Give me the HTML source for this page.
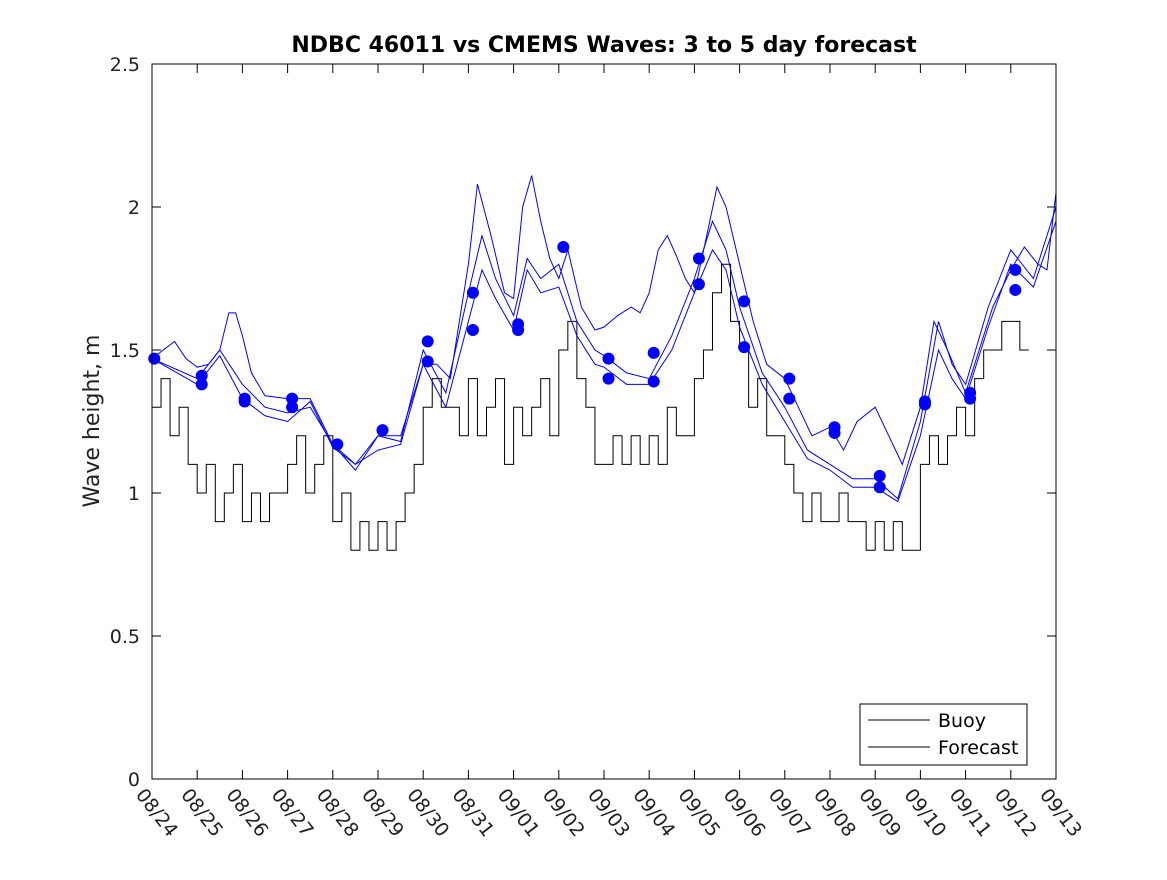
<!DOCTYPE html>
<html><head><meta charset="utf-8"><style>
body{margin:0;background:#fff}
svg{font-family:"DejaVu Sans","Liberation Sans",sans-serif}
</style></head><body>
<svg id="chart" width="1167" height="875" viewBox="0 0 1167 875" xmlns="http://www.w3.org/2000/svg">
<rect width="1167" height="875" fill="#fff"/>
<text x="604" y="52" text-anchor="middle" font-size="22" font-weight="bold">NDBC 46011 vs CMEMS Waves: 3 to 5 day forecast</text>
<text transform="translate(99,421) rotate(-90)" text-anchor="middle" font-size="22" fill="#222">Wave height, m</text>
<g id="grid"></g><g id="series"></g>
<rect x="152" y="64" width="904" height="715" fill="none" stroke="#000" stroke-width="1"/>
<g>
<rect x="860" y="704" width="167" height="61" fill="#fff" stroke="#000"/>
<line x1="868" y1="720" x2="930" y2="720" stroke="#000"/>
<text x="938" y="727" font-size="19">Buoy</text>
<line x1="868" y1="747" x2="930" y2="747" stroke="#000"/>
<text x="938" y="754" font-size="19">Forecast</text>
</g>
</svg>
<script>
const xLabels=["08/24","08/25","08/26","08/27","08/28","08/29","08/30","08/31","09/01","09/02","09/03","09/04","09/05","09/06","09/07","09/08","09/09","09/10","09/11","09/12","09/13"];
const yTicks=[0,0.5,1,1.5,2,2.5];
const buoyStep=0.2;
const buoy=[1.3,1.4,1.2,1.3,1.1,1.0,1.1,0.9,1.0,1.1,0.9,1.0,0.9,1.0,1.0,1.1,1.2,1.0,1.1,1.2,0.9,1.0,0.8,0.9,0.8,0.9,0.8,0.9,1.0,1.1,1.3,1.4,1.3,1.3,1.2,1.4,1.2,1.3,1.4,1.1,1.3,1.2,1.3,1.4,1.2,1.5,1.6,1.4,1.3,1.1,1.1,1.2,1.1,1.2,1.1,1.2,1.1,1.3,1.2,1.2,1.4,1.5,1.7,1.8,1.6,1.5,1.3,1.4,1.2,1.2,1.1,1.0,0.9,1.0,0.9,0.9,1.0,0.9,0.9,0.8,0.9,0.8,0.9,0.8,0.8,1.1,1.2,1.1,1.2,1.3,1.2,1.4,1.5,1.5,1.6,1.6,1.5];
const fc1Days=[0,0.25,0.5,0.75,1,1.25,1.5,1.7,1.85,2,2.2,2.5,3,3.5,4,4.5,5,5.5,6,6.3,6.6,7,7.2,7.5,7.8,8,8.2,8.4,8.6,8.8,9,9.2,9.5,9.8,10,10.3,10.6,10.8,11,11.2,11.4,11.6,11.8,12,12.3,12.5,12.7,13,13.3,13.6,14,14.3,14.6,15,15.3,15.6,16,16.3,16.6,17,17.3,17.6,18,18.3,18.6,19,19.3,19.6,19.8,20];
const fc1=[1.47,1.5,1.53,1.47,1.44,1.45,1.5,1.63,1.63,1.55,1.42,1.34,1.33,1.33,1.17,1.1,1.2,1.2,1.45,1.45,1.4,1.8,2.08,1.9,1.7,1.68,2.0,2.11,1.95,1.82,1.75,1.85,1.65,1.57,1.58,1.62,1.65,1.63,1.7,1.85,1.9,1.83,1.75,1.7,1.92,2.07,2.0,1.8,1.6,1.45,1.4,1.3,1.2,1.23,1.15,1.25,1.3,1.2,1.1,1.3,1.6,1.5,1.35,1.5,1.65,1.78,1.86,1.8,1.78,2.05];
const fc2Days=[0,1,1.5,2,2.5,3,3.5,4,4.5,5,5.5,6,6.5,7,7.3,7.6,8,8.3,8.6,9,9.4,9.8,10,10.5,11,11.5,12,12.4,12.7,13,13.5,14,14.5,15,15.5,16,16.5,17,17.4,17.7,18,18.5,19,19.5,20];
const fc2=[1.47,1.4,1.5,1.38,1.3,1.28,1.3,1.17,1.08,1.2,1.18,1.5,1.35,1.7,1.9,1.75,1.62,1.82,1.75,1.8,1.6,1.5,1.48,1.42,1.4,1.55,1.75,1.95,1.85,1.65,1.42,1.3,1.15,1.1,1.05,1.05,0.98,1.25,1.6,1.45,1.38,1.65,1.85,1.75,2.0];
const fc3Days=[0,1,1.5,2,2.5,3,3.5,4,4.5,5,5.5,6,6.5,7,7.3,7.6,8,8.3,8.6,9,9.4,9.8,10,10.5,11,11.5,12,12.4,12.7,13,13.5,14,14.5,15,15.5,16,16.5,17,17.4,17.7,18,18.5,19,19.5,20];
const fc3=[1.47,1.38,1.48,1.33,1.27,1.25,1.32,1.16,1.1,1.15,1.17,1.45,1.3,1.6,1.78,1.68,1.57,1.78,1.7,1.72,1.55,1.45,1.44,1.38,1.38,1.5,1.7,1.85,1.78,1.58,1.38,1.25,1.12,1.08,1.02,1.02,0.97,1.2,1.5,1.4,1.33,1.58,1.8,1.72,1.95];
const dotDays=[0.05,1.1,1.1,2.05,2.05,3.1,3.1,4.1,5.1,6.1,6.1,7.1,7.1,8.1,8.1,9.1,10.1,10.1,11.1,11.1,12.1,12.1,13.1,13.1,14.1,14.1,15.1,15.1,16.1,16.1,17.1,17.1,18.1,18.1,19.1,19.1];
const dotVals=[1.47,1.41,1.38,1.33,1.32,1.33,1.30,1.17,1.22,1.53,1.46,1.70,1.57,1.59,1.57,1.86,1.47,1.40,1.49,1.39,1.82,1.73,1.67,1.51,1.40,1.33,1.23,1.21,1.06,1.02,1.32,1.31,1.35,1.33,1.78,1.71];

const X=d=>152+d*904/20, Y=v=>779-v*286;
const NS="http://www.w3.org/2000/svg";
const grid=document.getElementById('grid'), ser=document.getElementById('series');
function mk(tag,attrs,parent){const e=document.createElementNS(NS,tag);for(const k in attrs)e.setAttribute(k,attrs[k]);parent.appendChild(e);return e;}
yTicks.forEach(v=>{
  const y=Y(v);
  const t=mk('path',{d:`M152 ${y}h9M1056 ${y}h-9`,stroke:'#000'},grid);
  
  
  const l=mk('text',{x:140,y:y+7,'text-anchor':'end','font-size':19,fill:'#222'},grid);
  
  
  l.textContent=String(v);
});
xLabels.forEach((s,i)=>{
  const x=X(i);
  const t=mk('path',{d:`M${x} 779v-9M${x} 64v9`,stroke:'#000'},grid);
  
  
  const l=mk('text',{transform:`translate(${x-17},${795}) rotate(52)`,'font-size':19,fill:'#222'},grid);
  
  
  l.textContent=s;
});
let bd='';
buoy.forEach((v,i)=>{const x0=X(i*buoyStep),x1=X((i+1)*buoyStep);bd+=(i?'L':'M')+x0+' '+Y(v)+'L'+x1+' '+Y(v);});
const bp=mk('path',{d:bd,fill:'none',stroke:'#000','stroke-width':1},ser);


[[fc1Days,fc1],[fc2Days,fc2],[fc3Days,fc3]].forEach(([ds,vs],k)=>{
  const p=mk('path',{d:ds.map((d,i)=>(i?'L':'M')+X(d)+' '+Y(vs[i])).join(''),fill:'none',stroke:'#0000ff','stroke-width':1},ser);
  
  
});
dotDays.forEach((d,i)=>{
  const c=mk('circle',{cx:X(d),cy:Y(dotVals[i]),r:6,fill:'#0000ff'},ser);
  
  
});
</script>
</body></html>
